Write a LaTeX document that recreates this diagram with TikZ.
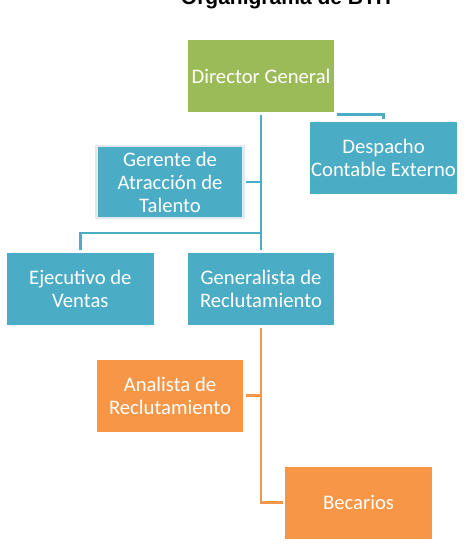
\documentclass[tikz,border=0pt]{standalone}
\usepackage{fontspec}
\setmainfont{Carlito}
\newfontfamily\titlefont{Liberation Sans}
\usetikzlibrary{positioning,calc}
\definecolor{cGreen}{HTML}{9BBB59}
\definecolor{cBlue}{HTML}{4BACC6}
\definecolor{cOrange}{HTML}{F79646}
\definecolor{cEdge}{HTML}{E2E9ED}
\tikzset{
  box/.style={fill=#1, text=white, align=center, font=\fontsize{15.5}{17.3}\selectfont,
              inner sep=0pt, minimum width=110pt, minimum height=54pt, outer sep=2pt},
  link/.style={draw=#1, line width=2.2pt},
}
\begin{document}
\begin{tikzpicture}[x=0.75pt, y=-0.75pt]
\clip (0,0) rectangle (467,549);
\node[font=\titlefont\bfseries\fontsize{15.75}{18}\selectfont, anchor=base] (title) at (286,5) {Organigrama de BTH};
\node[box=cGreen] (dir) at (261,76) {Director General};
\node[box=cBlue] (desp) at (383.5,158) {Despacho\\Contable Externo};
\node[box=cBlue, draw=cEdge, line width=2pt] (ger) at (170,182) {Gerente de\\Atracción de\\Talento};
\node[box=cBlue] (gen) at (261,289) {Generalista de\\Reclutamiento};
\node[box=cBlue, left=21.5pt of gen] (ejec) {Ejecutivo de\\Ventas};
\node[box=cOrange] (anal) at (170,395.5) {Analista de\\Reclutamiento};
\node[box=cOrange] (bec) at (358.5,502.5) {Becarios};
% conectores
\draw[link=cBlue] (dir.south) -- (dir.south|-gen.north);
\draw[link=cBlue] (dir.south east) -| (desp.north);
\draw[link=cBlue] (ger.east) -- (ger.east-|dir.south);
\draw[link=cBlue] (ejec.north) |- ([yshift=13pt]gen.north);
\draw[link=cOrange] (gen.south) |- (bec.west);
\draw[link=cOrange] (anal.east) -- (anal.east-|gen.south);
\end{tikzpicture}
\end{document}
